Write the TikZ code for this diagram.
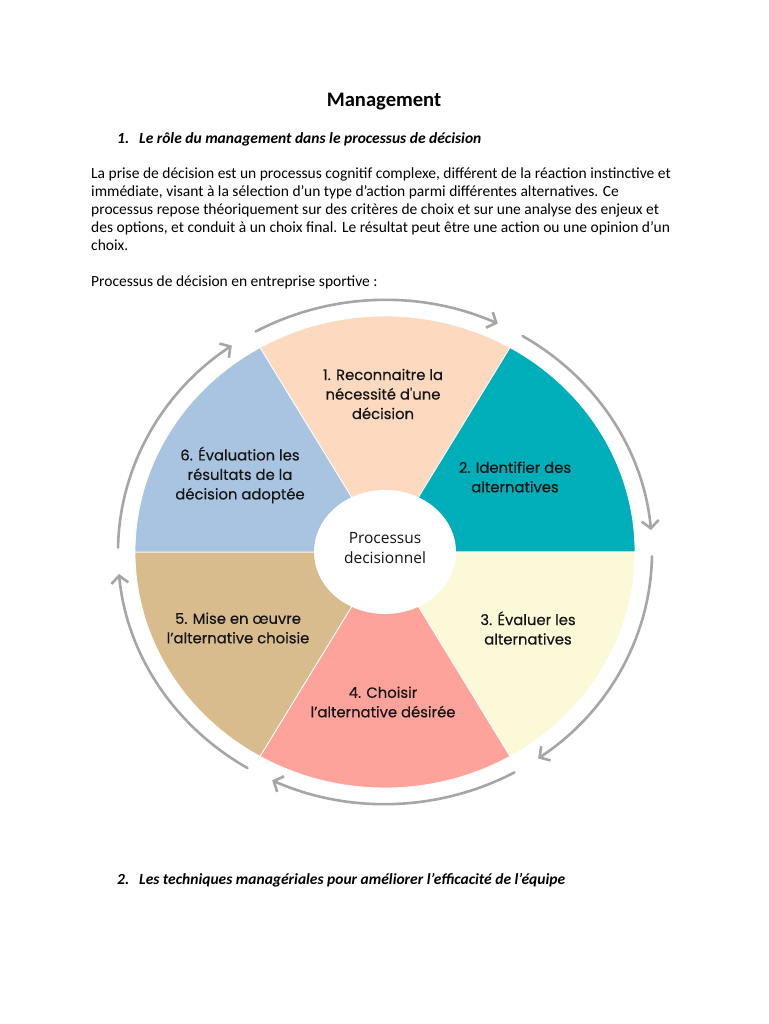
\documentclass[tikz,border=0pt]{standalone}
\usepackage{fontspec}
\setmainfont{Carlito}
\newfontfamily\wheelfont[FakeBold=0.3]{Poppins}
\newfontfamily\hubfont{Open Sans}
\usetikzlibrary{arrows.meta,calc}
\definecolor{Ink}{HTML}{141414}
\definecolor{CycleGray}{HTML}{A4A6A7}
\definecolor{StepOne}{HTML}{FDD9BF}
\definecolor{StepTwo}{HTML}{00AEBA}
\definecolor{StepThree}{HTML}{FBF9D8}
\definecolor{StepFour}{HTML}{FEA39B}
\definecolor{StepFive}{HTML}{D8BC8D}
\definecolor{StepSix}{HTML}{A9C4E0}

\begin{document}
\begin{tikzpicture}[x=1pt,y=1pt,
    bodytext/.style={font=\fontsize{15.5}{18}\selectfont, inner sep=0pt, anchor=base west},
    heading/.style={bodytext, font=\bfseries\itshape\fontsize{15.5}{18}\selectfont},
    steplabel/.style={align=center, font=\wheelfont\fontsize{14.8}{19.5}\selectfont, text=Ink, inner sep=0pt},
    cyclearrow/.style={-{Straight Barb[length=7.5pt,width=17pt]}, line width=2.6pt, draw=CycleGray, line cap=round}]
  \useasboundingbox[fill=white] (0,0) rectangle (768,1024);

  % page text
  \node[font=\bfseries\fontsize{20.6}{24}\selectfont, anchor=base] (title) at (384,917.5) {Management};
  \node[heading] (h1num) at (117,880.5) {1.};
  \node[heading] (h1) at (139,880.5) {Le rôle du management dans le processus de décision};
  \foreach \txt [count=\i] in {%
      {La prise de décision est un processus cognitif complexe, différent de la réaction instinctive et},
      {immédiate, visant à la sélection d’un type d’action parmi différentes alternatives. Ce},
      {processus repose théoriquement sur des critères de choix et sur une analyse des enjeux et},
      {des options, et conduit à un choix final. Le résultat peut être une action ou une opinion d’un},
      {choix.}}
    \node[bodytext] (line\i) at (91,{845.5-18*(\i-1)}) {\txt};
  \node[bodytext] (intro) at (91,737.5) {Processus de décision en entreprise sportive :};
  \node[heading] (h2num) at (117,139.5) {2.};
  \node[heading] (h2) at (139,139.5) {Les techniques managériales pour améliorer l’efficacité de l’équipe};

  % wheel
  \coordinate (c) at (385,472);
  \foreach \col [count=\i] in {StepOne,StepTwo,StepThree,StepFour,StepFive,StepSix}{
    \pgfmathsetmacro\from{120-60*\i}
    \fill[\col, draw=white, line width=0.8pt] (c) -- ($(c)+(\from+60:250 and 236)$)
      arc[start angle=\from+60, end angle=\from, x radius=250, y radius=236] -- cycle;
  }
  \fill[white] (c) ellipse[x radius=71, y radius=62];

  \foreach \a in {120,60,0,-60,-120,-180}
    \draw[cyclearrow] ($(c)+(\a-1:267 and 252)$)
      arc[start angle=\a-1, end angle=\a-55, x radius=267, y radius=252];

  \node[steplabel] (s1) at (383,630) {1. Reconnaitre la\\nécessité d'une\\décision};
  \node[steplabel] (s2) at (515,547) {2. Identifier des\\alternatives};
  \node[steplabel] (s3) at (528,396) {3. Évaluer les\\alternatives};
  \node[steplabel] (s4) at (383,322) {4. Choisir\\l’alternative désirée};
  \node[steplabel] (s5) at (238,396) {5. Mise en œuvre\\l’alternative choisie};
  \node[steplabel] (s6) at (240,549) {6. Évaluation les\\résultats de la\\décision adoptée};
  \node[align=center, font=\hubfont\fontsize{15.5}{20}\selectfont, text=Ink, inner sep=0pt] (hub) at (385,476) {Processus\\decisionnel};
\end{tikzpicture}
\end{document}
